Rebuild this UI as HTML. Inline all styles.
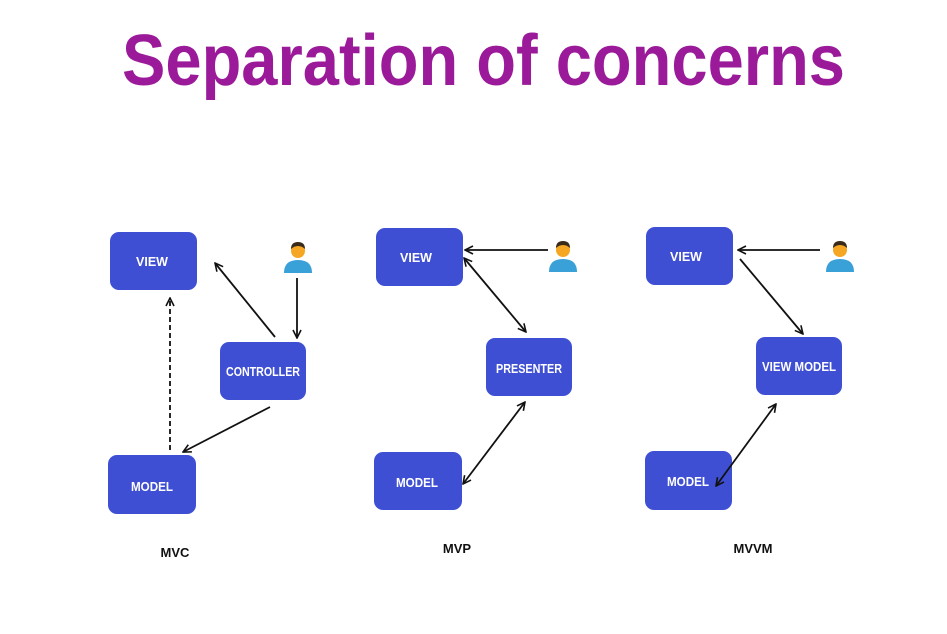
<!DOCTYPE html>
<html><head><style>
html,body{margin:0;padding:0;background:#fff;width:947px;height:634px;overflow:hidden}
</style></head><body>
<svg width="947" height="634" viewBox="0 0 947 634" xmlns="http://www.w3.org/2000/svg">
<defs>
<marker id="a" markerWidth="10" markerHeight="10" refX="9" refY="5" orient="auto-start-reverse" markerUnits="userSpaceOnUse">
<path d="M1,1 L9,5 L1,9" fill="none" stroke="#111" stroke-width="1.6"/>
</marker>
<g id="p">
<circle cx="0" cy="-6" r="7" fill="#f5a623"/>
<path d="M-7,-8 Q-7,-15 0,-15 Q7,-15 7,-8 Q4,-11 0,-11 Q-4,-11 -7,-8Z" fill="#3a2a1a"/>
<path d="M-14,16 Q-14,3 0,3 Q14,3 14,16Z" fill="#3aa0d8"/>
</g>
</defs>
<text x="122" y="85" textLength="723" lengthAdjust="spacingAndGlyphs" font-family="Liberation Sans, sans-serif" font-weight="bold" font-size="72" fill="#9a1a9a">Separation of concerns</text>
<g fill="#3f4fd4">
<rect x="110" y="232" width="87" height="58" rx="9"/>
<rect x="220" y="342" width="86" height="58" rx="9"/>
<rect x="108" y="455" width="88" height="59" rx="9"/>
<rect x="376" y="228" width="87" height="58" rx="9"/>
<rect x="486" y="338" width="86" height="58" rx="9"/>
<rect x="374" y="452" width="88" height="58" rx="9"/>
<rect x="646" y="227" width="87" height="58" rx="9"/>
<rect x="756" y="337" width="86" height="58" rx="9"/>
<rect x="645" y="451" width="87" height="59" rx="9"/>
</g>
<g fill="#fff" font-family="Liberation Sans, sans-serif" font-size="13" text-anchor="middle" font-weight="bold">
<text x="152" y="266" textLength="32" lengthAdjust="spacingAndGlyphs">VIEW</text>
<text x="263" y="376" textLength="74" lengthAdjust="spacingAndGlyphs">CONTROLLER</text>
<text x="152" y="491" textLength="42" lengthAdjust="spacingAndGlyphs">MODEL</text>
<text x="416" y="262" textLength="32" lengthAdjust="spacingAndGlyphs">VIEW</text>
<text x="529" y="373" textLength="66" lengthAdjust="spacingAndGlyphs">PRESENTER</text>
<text x="417" y="487" textLength="42" lengthAdjust="spacingAndGlyphs">MODEL</text>
<text x="686" y="261" textLength="32" lengthAdjust="spacingAndGlyphs">VIEW</text>
<text x="799" y="371" textLength="74" lengthAdjust="spacingAndGlyphs">VIEW MODEL</text>
<text x="688" y="486" textLength="42" lengthAdjust="spacingAndGlyphs">MODEL</text>
</g>
<g fill="#111" font-family="Liberation Sans, sans-serif" font-size="13" text-anchor="middle" font-weight="bold">
<text x="175" y="557">MVC</text>
<text x="457" y="553">MVP</text>
<text x="753" y="553">MVVM</text>
</g>
<use href="#p" x="298" y="257"/>
<use href="#p" x="563" y="256"/>
<use href="#p" x="840" y="256"/>
<g stroke="#111" stroke-width="1.8" fill="none">
<line x1="275" y1="337" x2="215" y2="263" marker-end="url(#a)"/>
<line x1="297" y1="278" x2="297" y2="338" marker-end="url(#a)"/>
<line x1="270" y1="407" x2="183" y2="452" marker-end="url(#a)"/>
<line x1="170" y1="450" x2="170" y2="298" stroke-dasharray="5,3" marker-end="url(#a)"/>
<line x1="548" y1="250" x2="465" y2="250" marker-end="url(#a)"/>
<line x1="464" y1="258" x2="526" y2="332" marker-start="url(#a)" marker-end="url(#a)"/>
<line x1="525" y1="402" x2="463" y2="484" marker-start="url(#a)" marker-end="url(#a)"/>
<line x1="820" y1="250" x2="738" y2="250" marker-end="url(#a)"/>
<line x1="740" y1="259" x2="803" y2="334" marker-end="url(#a)"/>
<line x1="776" y1="404" x2="716" y2="486" marker-start="url(#a)" marker-end="url(#a)"/>
</g>
</svg>
</body></html>
